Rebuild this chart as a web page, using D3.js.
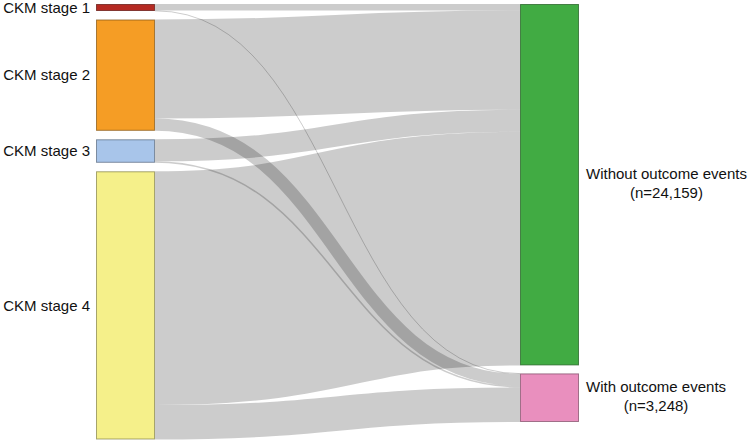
<!DOCTYPE html>
<html>
<head>
<meta charset="utf-8">
<script src="https://cdn.jsdelivr.net/npm/d3@7"></script>
<style>
  html, body { margin: 0; padding: 0; background: #fff; }
  svg { display: block; }
  text { font-family: "Liberation Sans", Arial, sans-serif; font-size: 15px; fill: #111; }
</style>
</head>
<body>
<svg id="chart" width="750" height="443"></svg>
<script>
// ---- data ----
const sourceNames = ["CKM stage 1", "CKM stage 2", "CKM stage 3", "CKM stage 4"];
const sourceColors = ["#b52a22", "#f59d25", "#a8c5ea", "#f5f08a"];
const targetNames = ["Without outcome events", "With outcome events"];
const targetCountLabels = ["(n=24,159)", "(n=3,248)"];
const targetColors = ["#41ab43", "#e98fbe"];
// flows from each stage into each outcome
const withoutValues = [440, 6620, 1470, 15629];
const withValues = [28, 820, 100, 2300];

// ---- layout ----
const svg = d3.select("#chart");
const nodeWidth = 59;
const leftPadding = 8.5, rightPadding = 8;
const topY = 4;
const leftX = 96, rightX = 520;

const sourceTotals = sourceNames.map((_, i) => withoutValues[i] + withValues[i]);
const targetTotals = [d3.sum(withoutValues), d3.sum(withValues)];
const grand = d3.sum(sourceTotals);

const y = d3.scaleLinear().domain([0, grand]).range([0, 410]);

function stack(totals, y0, pad) {
  let cur = y0;
  return totals.map(v => {
    const n = { y0: cur, y1: cur + y(v), value: v };
    cur = n.y1 + pad;
    return n;
  });
}
const srcNodes = stack(sourceTotals, topY, leftPadding).map((n, i) => Object.assign(n, {
  name: sourceNames[i], color: sourceColors[i], x0: leftX, x1: leftX + nodeWidth }));
const tgtNodes = stack(targetTotals, topY, rightPadding).map((n, i) => Object.assign(n, {
  name: targetNames[i], sub: targetCountLabels[i], color: targetColors[i], x0: rightX, x1: rightX + nodeWidth }));

// links
const links = [];
sourceNames.forEach((_, i) => {
  links.push({ s: i, t: 0, value: withoutValues[i] });
  links.push({ s: i, t: 1, value: withValues[i] });
});
srcNodes.forEach((n, i) => {
  let cur = n.y0;
  links.filter(l => l.s === i).sort((a, b) => a.t - b.t).forEach(l => {
    l.w = y(l.value); l.sy = cur + l.w / 2; cur += l.w;
  });
});
tgtNodes.forEach((n, j) => {
  let cur = n.y0;
  links.filter(l => l.t === j).sort((a, b) => a.s - b.s).forEach(l => {
    l.ty = cur + l.w / 2; cur += l.w;
  });
});

const linkGen = d3.linkHorizontal()
  .source(l => [srcNodes[l.s].x1, l.sy])
  .target(l => [tgtNodes[l.t].x0, l.ty]);

svg.append("g")
  .attr("fill", "none")
  .selectAll("path")
  .data(links)
  .join("path")
  .attr("d", linkGen)
  .attr("stroke", "#000")
  .attr("stroke-opacity", 0.2)
  .attr("stroke-width", l => Math.max(1, l.w));

const allNodes = srcNodes.concat(tgtNodes);
svg.append("g")
  .selectAll("rect")
  .data(allNodes)
  .join("rect")
  .attr("x", d => d.x0 + 0.5)
  .attr("y", d => d.y0 + 0.5)
  .attr("width", d => d.x1 - d.x0 - 1)
  .attr("height", d => Math.max(1, d.y1 - d.y0 - 1))
  .attr("fill", d => d.color)
  .attr("stroke", d => d3.rgb(d.color).darker(1.6))
  .attr("stroke-opacity", 0.75)
  .attr("stroke-width", 1);

// left labels
svg.append("g")
  .selectAll("text")
  .data(srcNodes)
  .join("text")
  .attr("x", d => d.x0 - 6)
  .attr("y", d => (d.y0 + d.y1) / 2)
  .attr("dy", "0.35em")
  .attr("text-anchor", "end")
  .text(d => d.name);

// right labels (two centred lines, block starting right of node)
tgtNodes.forEach((d, j) => {
  const g = svg.append("g");
  const cy = (d.y0 + d.y1) / 2;
  const t1 = g.append("text").attr("y", cy - 11).attr("dy", "0.35em").attr("text-anchor", "middle").text(d.name);
  const t2 = g.append("text").attr("y", cy + 8).attr("dy", "0.35em").attr("text-anchor", "middle").text(d.sub);
  const w = Math.max(t1.node().getComputedTextLength(), t2.node().getComputedTextLength());
  const cx = d.x1 + 7 + w / 2;
  t1.attr("x", cx); t2.attr("x", cx);
});
</script>
</body>
</html>
